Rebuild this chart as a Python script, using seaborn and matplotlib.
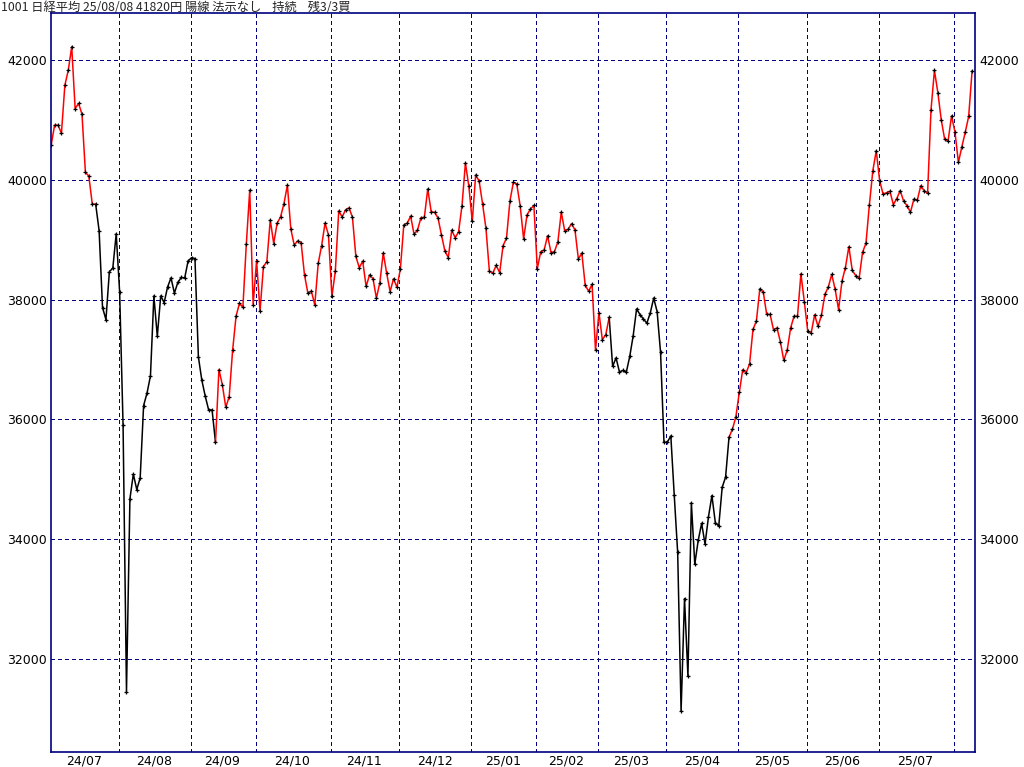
import numpy as np
import pandas as pd
import matplotlib
matplotlib.use('Agg')
import matplotlib.pyplot as plt
import seaborn as sns

# month labels (last one is a partial month, drawn without a label)
months = ['24/07', '24/08', '24/09', '24/10', '24/11', '24/12', '25/01',
          '25/02', '25/03', '25/04', '25/05', '25/06', '25/07', '25/08']

# daily closes, one list per month
jul24 = [40580, 40913, 40912, 40780, 41580, 41831, 42224, 41190, 41275, 41097,
         40126, 40063, 39599, 39594, 39154, 37869, 37667, 38468, 38525, 39101]
aug24 = [38126, 35909, 31458, 34675, 35089, 34831, 35025, 36232, 36442, 36726,
         38062, 37388, 38062, 37951, 38211, 38364, 38110, 38288, 38371, 38362, 38647]
sep24 = [38700, 38686, 37047, 36657, 36391, 36159, 36159, 35619, 36833, 36581,
         36203, 36380, 37155, 37723, 37940, 37870, 38925, 39829, 37919]
oct24 = [38651, 37808, 38552, 38635, 39332, 38937, 39277, 39380, 39605, 39910, 39180,
         38911, 38981, 38954, 38411, 38104, 38143, 37913, 38605, 38903, 39277, 39081]
nov24 = [38053, 38474, 39480, 39381, 39500, 39533, 39376, 38721, 38535, 38642,
         38220, 38414, 38352, 38026, 38283, 38780, 38442, 38134, 38349, 38208]
dec24 = [38513, 39248, 39276, 39395, 39091, 39160, 39367, 39372, 39849, 39470, 39457,
         39364, 39081, 38813, 38701, 39161, 39036, 39130, 39568, 40281, 39894]
jan25 = [39307, 40083, 39981, 39605, 39190, 38474, 38444, 38572, 38451, 38902,
         39027, 39646, 39958, 39931, 39565, 39016, 39414, 39513, 39572]
feb25 = [38520, 38798, 38831, 39066, 38787, 38801, 38963, 39461, 39149,
         39174, 39270, 39164, 38678, 38776, 38237, 38142, 38256, 37155]
mar25 = [37785, 37331, 37418, 37704, 36887, 37028, 36793, 36819, 36790, 37053,
         37396, 37845, 37751, 37677, 37608, 37780, 38027, 37799, 37120, 35617]
apr25 = [35624, 35725, 34735, 33780, 31136, 33012, 31714, 34609, 33585, 33982, 34267,
         33920, 34377, 34730, 34279, 34220, 34868, 35039, 35705, 35839, 36045]
may25 = [36452, 36830, 36779, 36928, 37503, 37644, 38183, 38128, 37755, 37753,
         37498, 37529, 37298, 36985, 37160, 37531, 37724, 37722, 38432, 37965]
jun25 = [37470, 37446, 37747, 37554, 37741, 38088, 38211, 38421, 38173, 37834, 38311,
         38536, 38885, 38488, 38403, 38354, 38790, 38942, 39584, 40150, 40487]
jul25 = [39986, 39762, 39785, 39810, 39587, 39688, 39821, 39646, 39569, 39459, 39678,
         39663, 39901, 39819, 39774, 41171, 41826, 41456, 40998, 40674, 40654, 41069]
aug25 = [40799, 40290, 40549, 40794, 41059, 41820]

closes_by_month = [jul24, aug24, sep24, oct24, nov24, dec24, jan25,
                   feb25, mar25, apr25, may25, jun25, jul25, aug25]

# trend state changes: month, trading-day position within that month, new state
switch_month = ['24/07', '24/07', '24/09', '25/03', '25/04']
switch_pos = [0, 14, 8, 4, 19]
switch_state = ['up', 'down', 'up', 'down', 'up']

yticks = [32000, 34000, 36000, 38000, 40000, 42000]
title_text = '1001 日経平均 25/08/08 41820円 陽線 法示なし    持続    残3/3買'

NAVY = '#000080'
state_colors = {'up': '#ff0000', 'down': '#000000'}

sns.set_style('white')
plt.rcParams['font.family'] = ['Liberation Sans Narrow', 'DejaVu Sans']

close = np.concatenate(closes_by_month).astype(float)
n = len(close)
idx = np.arange(n)
month_start = np.cumsum([0] + [len(m) for m in closes_by_month])

state = np.empty(n, dtype=object)
for m, p, s in zip(switch_month, switch_pos, switch_state):
    state[month_start[months.index(m)] + p:] = s

# split into runs of one colour, each run starts at the previous point so they join
rows = []
run = 0
for i in range(n):
    if i > 0 and state[i] != state[i - 1]:
        run += 1
        rows.append((idx[i - 1], close[i - 1], f'r{run}', state[i]))
    rows.append((idx[i], close[i], f'r{run}', state[i]))
seg = pd.DataFrame(rows, columns=['idx', 'close', 'run', 'state'])
pal = {r: state_colors[s] for r, s in seg.groupby('run')['state'].first().items()}

fig = plt.figure(figsize=(10.24, 7.67), dpi=100)
ax = fig.add_axes([51 / 1024, 1 - 752 / 767, 924 / 1024, 739 / 767])

grid_kw = dict(color=NAVY, lw=0.72, ls=(0, (4, 3)), zorder=1, antialiased=False)
for y in yticks:
    ax.axhline(y, **grid_kw)
for s in month_start[1:-1]:
    ax.axvline(s - 0.3, **grid_kw)

sns.lineplot(data=seg, x='idx', y='close', hue='run', palette=pal, units='run',
             estimator=None, sort=False, legend=False, lw=1.1, ax=ax, zorder=2)
sns.scatterplot(x=idx, y=close, marker='+', color='black', s=12, linewidth=0.9,
                ax=ax, zorder=3)

ax.set_xlim(-0.05, 269.85)
ax.set_ylim(30450, 42785)

centers = [(month_start[k] + month_start[k + 1] - 1) / 2 for k in range(len(months) - 1)]
ax.set_xticks(centers)
ax.set_xticklabels(months[:-1])
ax.set_yticks(yticks)
ax.set_yticklabels([str(v) for v in yticks])
ax.set_xlabel('')
ax.set_ylabel('')
ax.tick_params(axis='both', length=0, labelsize=9, colors='black')
ax.tick_params(axis='x', pad=2)
ax.tick_params(axis='y', pad=3, labelright=True)

for sp in ax.spines.values():
    sp.set_color(NAVY)
    sp.set_linewidth(1.2)
    sp.set_visible(True)

fig.text(0.001, 1 - 1 / 767, title_text, ha='left', va='top', fontsize=8.8,
         family=['Noto Sans CJK JP', 'DejaVu Sans'])

fig.savefig('out.png', dpi=100, facecolor='white')
